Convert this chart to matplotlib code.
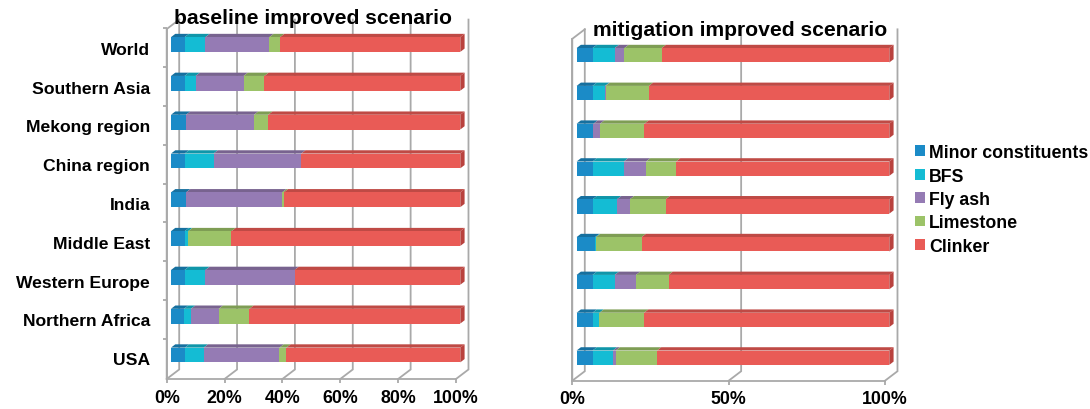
import matplotlib
matplotlib.use('Agg')
import numpy as np
import matplotlib.pyplot as plt
import matplotlib.transforms as mtransforms
from matplotlib.patches import Polygon, Patch

plt.rcParams['font.family'] = ['Liberation Sans', 'DejaVu Sans']
plt.rcParams['font.weight'] = 'bold'

regions = ['USA', 'Northern Africa', 'Western Europe', 'Middle East', 'India',
           'China region', 'Mekong region', 'Southern Asia', 'World']
components = ['Minor constituents', 'BFS', 'Fly ash', 'Limestone', 'Clinker']

# cement composition shares in %, rows follow `regions`
minor_base = [4.8, 4.5, 4.7, 4.7, 5.2, 4.7, 5.2, 4.7, 4.7]
bfs_base = [6.5, 2.4, 7.2, 1.2, 0.0, 10.0, 0.0, 3.8, 7.2]
flyash_base = [26.2, 9.6, 30.8, 0.0, 33.2, 30.3, 23.5, 16.6, 22.1]
limestone_base = [2.4, 10.6, 0.0, 15.0, 0.6, 0.0, 4.9, 7.2, 3.7]
clinker_base = [60.1, 72.9, 57.3, 79.1, 61.0, 55.0, 66.4, 67.7, 62.3]

minor_mit = [5.1, 5.1, 5.1, 5.9, 5.1, 5.1, 5.4, 5.1, 5.1]
bfs_mit = [6.5, 2.2, 7.1, 0.3, 7.8, 10.0, 0.0, 4.0, 7.1]
flyash_mit = [0.9, 0.0, 6.8, 0.0, 4.1, 7.1, 2.1, 0.2, 3.1]
limestone_mit = [13.2, 14.3, 10.4, 14.6, 11.5, 9.6, 14.2, 13.8, 11.9]
clinker_mit = [74.3, 78.4, 70.6, 79.2, 71.5, 68.2, 78.3, 76.9, 72.8]

base_ticks = [0, 20, 40, 60, 80, 100]
base_ticklabels = ['0%', '20%', '40%', '60%', '80%', '100%']
mit_ticks = [0, 50, 100]
mit_ticklabels = ['0%', '50%', '100%']

colors = ['#1b8bc7', '#14bcd4', '#957bb4', '#9cc368', '#e95b56']
top_colors = ['#16709f', '#1096a9', '#78638f', '#7e9d54', '#bf4a45']
end_color = '#b9423e'
grid_color = '#a9a9a9'
BAR_H = 0.38


def px2data(ax, dx, dy):
    x0, y0 = ax.transData.transform((0, 0))
    return ax.transData.inverted().transform((x0 + dx, y0 + dy))


def draw_panel(ax, series, ticks, ticklabels, floor, top, labels):
    fig = ax.figure
    wall_dx, wall_dy = px2data(ax, 12.5, 9.5)
    bar_dx, bar_dy = px2data(ax, 4.3, 3.3)
    front = ax.transData + mtransforms.ScaledTranslation(
        4.3 / fig.dpi, 3.2 / fig.dpi, fig.dpi_scale_trans)

    # back wall gridlines with their floor diagonals, plus the side wall
    grid_kw = dict(color=grid_color, lw=1.3, zorder=1, clip_on=False,
                   solid_joinstyle='miter')
    for x in ticks:
        ax.plot([x, x + wall_dx, x + wall_dx],
                [floor, floor + wall_dy, top + wall_dy], **grid_kw)
    ax.plot([0, 0, wall_dx], [floor, top, top + wall_dy], **grid_kw)

    y = np.arange(len(regions))
    left = np.zeros(len(regions))
    for vals, c, tc in zip(series, colors, top_colors):
        vals = np.asarray(vals, dtype=float)
        ax.barh(y, vals, left=left, height=BAR_H, color=c, transform=front,
                zorder=3)
        for yi, l, w in zip(y, left, vals):
            if w <= 0:
                continue
            yt = yi + BAR_H / 2
            ax.add_patch(Polygon([(l, yt), (l + w, yt),
                                  (l + w + bar_dx, yt + bar_dy),
                                  (l + bar_dx, yt + bar_dy)],
                                 closed=True, facecolor=tc, edgecolor='none',
                                 transform=front, zorder=2))
        left = left + vals
    for yi, l in zip(y, left):
        yb, yt = yi - BAR_H / 2, yi + BAR_H / 2
        ax.add_patch(Polygon([(l, yb), (l, yt), (l + bar_dx, yt + bar_dy),
                              (l + bar_dx, yb + bar_dy)],
                             closed=True, facecolor=end_color, edgecolor='none',
                             transform=front, zorder=2))

    for side in ['top', 'right']:
        ax.spines[side].set_visible(False)
    ax.spines['bottom'].set_position(('data', floor))
    ax.spines['bottom'].set_bounds(0, 100)
    ax.spines['left'].set_position(('data', 0))
    ax.spines['left'].set_bounds(floor, top)
    for side in ['bottom', 'left']:
        ax.spines[side].set_color(grid_color)
        ax.spines[side].set_linewidth(1.3)

    ax.set_xticks(ticks)
    ax.set_xticklabels(ticklabels, fontsize=12.8, fontweight='bold')
    ax.tick_params(axis='x', direction='out', length=3, width=1.3,
                   color=grid_color, pad=4)
    if labels:
        ax.set_yticks(y)
        ax.set_yticklabels(regions, fontsize=12.6, fontweight='bold')
        ax.set_yticks(np.arange(0.5, len(regions), 1), minor=True)
        ax.tick_params(axis='y', which='major', length=0, pad=12)
        ax.tick_params(axis='y', which='minor', direction='out', length=3,
                       width=1.3, color=grid_color)
    else:
        ax.set_yticks([])
    ax.patch.set_visible(False)


fig = plt.figure(figsize=(10.9, 4.1), dpi=100)

ax1 = fig.add_axes([150 / 1090, 20 / 410, 330 / 1090, 378 / 410])
ax1.set_xlim(-5.77, 108.3)
ax1.set_ylim(-0.794, 8.946)
draw_panel(ax1, [minor_base, bfs_base, flyash_base, limestone_base, clinker_base],
           base_ticks, base_ticklabels, floor=-0.536, top=8.48, labels=True)

ax2 = fig.add_axes([555 / 1090, 20 / 410, 355 / 1090, 378 / 410])
ax2.set_xlim(-5.53, 108.0)
ax2.set_ylim(-0.743, 9.256)
draw_panel(ax2, [minor_mit, bfs_mit, flyash_mit, limestone_mit, clinker_mit],
           mit_ticks, mit_ticklabels, floor=-0.524, top=8.52, labels=False)

fig.text(313 / 1090, 1 - 19 / 410, 'baseline improved scenario',
         ha='center', va='center', fontsize=15.2, fontweight='bold')
fig.text(740 / 1090, 1 - 30 / 410, 'mitigation improved scenario',
         ha='center', va='center', fontsize=15.2, fontweight='bold')

handles = [Patch(facecolor=c, edgecolor='none') for c in colors]
fig.legend(handles, components, loc='upper left',
           bbox_to_anchor=(908 / 1090, 1 - 138 / 410), frameon=False,
           handlelength=0.55, handleheight=0.55,
           handletextpad=0.25, labelspacing=0.36, borderaxespad=0,
           prop={'weight': 'bold', 'size': 12.8})

fig.savefig('out.png', dpi=100)
